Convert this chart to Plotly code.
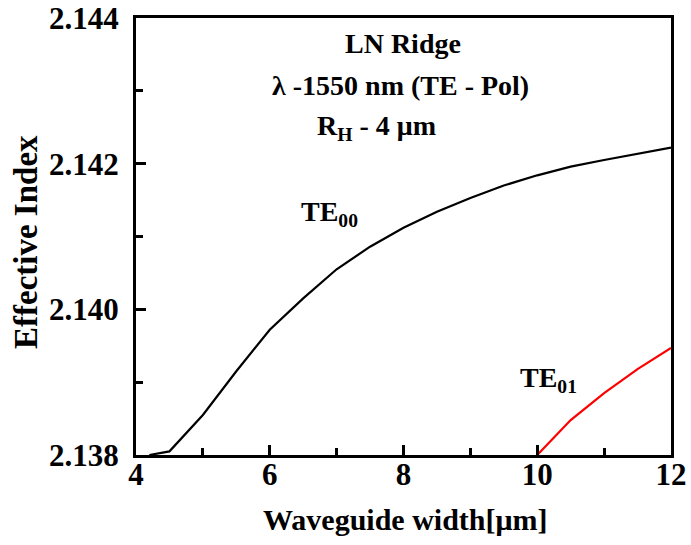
import plotly.graph_objects as go

# Effective index of the fundamental and first-order TE modes vs ridge width
width_te00 = [4.2, 4.5, 5.0, 5.5, 6.0, 6.5, 7.0, 7.5, 8.0, 8.5, 9.0, 9.5, 10.0, 10.5, 11.0, 11.5, 12.0]
neff_te00 = [2.13800, 2.13805, 2.13855, 2.13915, 2.13972, 2.14015, 2.14055, 2.14086, 2.14112,
             2.14134, 2.14153, 2.14170, 2.14184, 2.14196, 2.14205, 2.14214, 2.14222]

width_te01 = [10.0, 10.5, 11.0, 11.5, 12.0]
neff_te01 = [2.13800, 2.13848, 2.13885, 2.13918, 2.13947]

x_ticks = [4, 6, 8, 10, 12]
y_ticks = [2.138, 2.140, 2.142, 2.144]
y_tick_text = ["2.138", "2.140", "2.142", "2.144"]

FONT = "Liberation Serif"

fig = go.Figure()
fig.add_trace(go.Scatter(x=width_te00, y=neff_te00, mode="lines",
                         line=dict(color="black", width=2.2), showlegend=False))
fig.add_trace(go.Scatter(x=width_te01, y=neff_te01, mode="lines",
                         line=dict(color="#ff0000", width=2.2), showlegend=False))

axis_common = dict(
    showline=True, linecolor="black", linewidth=3, mirror=True,
    ticks="inside", tickcolor="black", tickwidth=3, ticklen=10,
    showgrid=False, zeroline=False, automargin=False,
    tickfont=dict(family=FONT, size=31, color="black"),
)

fig.update_xaxes(range=[4, 12], tickvals=x_ticks,
                 ticktext=[f"<b>{t}</b>" for t in x_ticks],
                 minor=dict(ticks="inside", dtick=1, ticklen=7, tickwidth=3, tickcolor="black"),
                 ticklabelstandoff=-10,
                 **axis_common)
fig.update_yaxes(range=[2.138, 2.144], tickvals=y_ticks, ticktext=[f"<b>{t}</b>" for t in y_tick_text],
                 minor=dict(ticks="inside", dtick=0.001, ticklen=7, tickwidth=3, tickcolor="black"),
                 ticklabelstandoff=8,
                 **axis_common)

# Axis titles placed relative to the plot area
fig.add_annotation(x=0.503, y=-0.148, xref="paper", yref="paper", showarrow=False,
                   xanchor="center", yanchor="middle",
                   text="<b>Waveguide width[μm]</b>",
                   font=dict(family=FONT, size=30, color="black"))
fig.add_annotation(x=-0.206, y=0.487, xref="paper", yref="paper", showarrow=False,
                   xanchor="center", yanchor="middle",
                   text="<b>Effective Index</b>", textangle=-90,
                   font=dict(family=FONT, size=33, color="black"))

def label(text, x, y, size=28):
    fig.add_annotation(x=x, y=y, xref="x", yref="y", text=f"<b>{text}</b>",
                       showarrow=False, font=dict(family=FONT, size=size, color="black"))

label("LN Ridge", 7.99, 2.14365)
label("λ -1550 nm (TE - Pol)", 7.95, 2.14307)
label("R<sub>H</sub> - 4 μm", 7.6, 2.14250)
label("TE<sub>00</sub>", 6.9, 2.14132)
label("TE<sub>01</sub>", 10.17, 2.13904)

fig.update_layout(
    width=691, height=545,
    margin=dict(l=136, r=20, t=18, b=90),
    plot_bgcolor="white", paper_bgcolor="white",
    font=dict(family=FONT, color="black"),
)

fig.write_html("out.html")
